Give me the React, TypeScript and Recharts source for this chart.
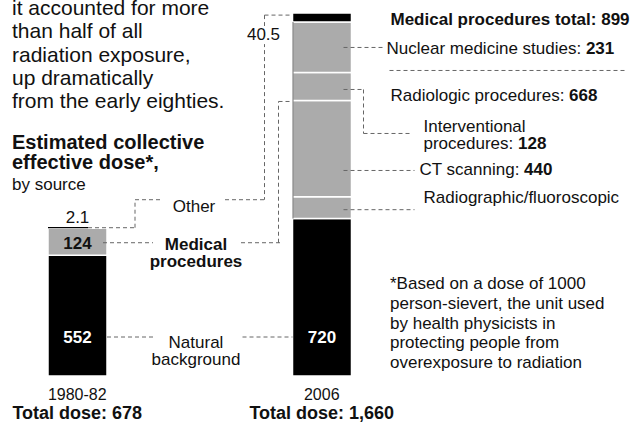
import React from 'react';
import { BarChart, Bar, XAxis, YAxis, LabelList } from 'recharts';

const periods = ['1980-82', '2006'];
const totalDoseLabels = ['678', '1,660'];
const naturalBackground = [552, 720];
const medicalProcedures = [124, null];
const radiographicFluoroscopic = [null, 100];
const ctScanning = [null, 440];
const interventionalProcedures = [null, 128];
const nuclearMedicine = [null, 231];
const otherSources = [2.1, 40.5];
const medicalTotal = 899;
const radiologicTotal = 668;

const introLines = [
  'it accounted for more',
  'than half of all',
  'radiation exposure,',
  'up dramatically',
  'from the early eighties.',
];
const headingLines = ['Estimated collective', 'effective dose*,'];
const subHeading = 'by source';
const footnoteLines = [
  '*Based on a dose of 1000',
  'person-sievert, the unit used',
  'by health physicists in',
  'protecting people from',
  'overexposure to radiation',
];

const data = periods.map((p, i) => ({
  period: p,
  total: totalDoseLabels[i],
  natural: naturalBackground[i],
  medical: medicalProcedures[i],
  radiographic: radiographicFluoroscopic[i],
  ct: ctScanning[i],
  interventional: interventionalProcedures[i],
  nuclear: nuclearMedicine[i],
  other: otherSources[i],
}));

const FONT = '"Liberation Sans", Arial, Helvetica, sans-serif';
const BLACK = '#000000';
const GRAY = '#ababab';
const LEAD = '#666666';
const FS = 17;

const geo: any = {};

const rectOf = (p: any) => {
  const v = p.viewBox || p;
  return { x: Number(v.x), y: Number(v.y), w: Number(v.width), h: Number(v.height) };
};

const Dash = ({ x1, y1, x2, y2 }: any) => (
  <line x1={x1} y1={y1} x2={x2} y2={y2} stroke={LEAD} strokeWidth={1} strokeDasharray="4 3" />
);

const T = (props: any) => (
  <text fontFamily={FONT} fontSize={FS} fill="#111" {...props} />
);

const NaturalLabel = (p: any) => {
  const r = rectOf(p);
  if (!r.h || p.value == null) return null;
  const b = r.y + r.h;
  const ly = b - 39;
  const cx = r.x + r.w / 2;
  if (p.index === 0) {
    geo.nat0 = { right: r.x + r.w, ly };
    return (
      <g>
        <T x={cx} y={b - 33} textAnchor="middle" fill="#fff" fontWeight="bold">{String(p.value)}</T>
        <Dash x1={r.x + r.w} y1={ly} x2={r.x + r.w + 46} y2={ly} />
        <T x={r.x + r.w + 89} y={ly + 11} textAnchor="middle">Natural</T>
        <T x={r.x + r.w + 89} y={ly + 28} textAnchor="middle">background</T>
      </g>
    );
  }
  return (
    <g>
      <T x={cx} y={b - 33} textAnchor="middle" fill="#fff" fontWeight="bold">{String(p.value)}</T>
      <Dash x1={r.x - 50} y1={ly} x2={r.x} y2={ly} />
    </g>
  );
};

const MedicalLabel = (p: any) => {
  const r = rectOf(p);
  if (!r.h || p.value == null) return null;
  const cy = r.y + r.h / 2 + 1;
  const cx = r.x + r.w / 2;
  geo.med = { y: cy };
  return (
    <g>
      <T x={cx} y={cy + 6} textAnchor="middle" fontWeight="bold">{String(p.value)}</T>
      <Dash x1={r.x + r.w - 4} y1={cy} x2={r.x + r.w + 46} y2={cy} />
      <T x={r.x + r.w + 89} y={cy + 7} textAnchor="middle" fontWeight="bold">Medical</T>
      <T x={r.x + r.w + 89} y={cy + 24} textAnchor="middle" fontWeight="bold">procedures</T>
      <Dash x1={r.x + r.w + 134} y1={cy} x2={r.x + r.w + 173} y2={cy} />
    </g>
  );
};

const RadiographicLabel = (p: any) => {
  const r = rectOf(p);
  if (!r.h || p.value == null) return null;
  const ly = r.y + 13;
  geo.radBottom = r.y + r.h;
  return (
    <g>
      <Dash x1={r.x + r.w - 8} y1={ly} x2={r.x + r.w + 63} y2={ly} />
      <T x={r.x + r.w + 72} y={r.y + 6}>Radiographic/fluoroscopic</T>
    </g>
  );
};

const CtLabel = (p: any) => {
  const r = rectOf(p);
  if (!r.h || p.value == null) return null;
  const ly = r.y + 70;
  const vx = r.x - 14;
  return (
    <g>
      {geo.med ? (
        <g>
          <Dash x1={vx} y1={geo.med.y} x2={vx} y2={r.y + 1} />
          <Dash x1={vx} y1={r.y + 1} x2={r.x} y2={r.y + 1} />
        </g>
      ) : null}
      <Dash x1={r.x + r.w - 8} y1={ly} x2={r.x + r.w + 63} y2={ly} />
      <T x={r.x + r.w + 68} y={ly + 5}>
        CT scanning: <tspan fontWeight="bold">{String(p.value)}</tspan>
      </T>
    </g>
  );
};

const InterventionalLabel = (p: any) => {
  const r = rectOf(p);
  if (!r.h || p.value == null) return null;
  const ly = r.y + 17;
  const vx = r.x + r.w + 12;
  return (
    <g>
      <Dash x1={r.x + r.w + 38} y1={r.y - 2} x2={r.x + r.w + 275} y2={r.y - 2} />
      <T x={r.x + r.w + 39} y={ly + 12}>
        Radiologic procedures: <tspan fontWeight="bold">{String(radiologicTotal)}</tspan>
      </T>
      <Dash x1={r.x + r.w - 8} y1={ly} x2={vx} y2={ly} />
      <Dash x1={vx} y1={ly} x2={vx} y2={ly + 44} />
      <Dash x1={vx} y1={ly + 44} x2={r.x + r.w + 61} y2={ly + 44} />
      <T x={r.x + r.w + 72} y={ly + 43}>Interventional</T>
      <T x={r.x + r.w + 72} y={ly + 60}>
        procedures: <tspan fontWeight="bold">{String(p.value)}</tspan>
      </T>
    </g>
  );
};

const NuclearLabel = (p: any) => {
  const r = rectOf(p);
  if (!r.h || p.value == null) return null;
  const ly = r.y + 25.5;
  return (
    <g>
      {geo.radBottom ? (
        <line x1={r.x + 0.5} y1={r.y} x2={r.x + 0.5} y2={geo.radBottom} stroke="#6e6e6e" strokeWidth={1} />
      ) : null}
      <T x={r.x + r.w + 39} y={r.y + 3} fontWeight="bold">
        Medical procedures total: {String(medicalTotal)}
      </T>
      <Dash x1={r.x + r.w - 8} y1={ly} x2={r.x + r.w + 32} y2={ly} />
      <T x={r.x + r.w + 35} y={ly + 7}>
        Nuclear medicine studies: <tspan fontWeight="bold">{String(p.value)}</tspan>
      </T>
    </g>
  );
};

const OtherLabel = (p: any) => {
  const r = rectOf(p);
  if (p.value == null || isNaN(r.y)) return null;
  if (p.index === 0) {
    const y = r.y;
    geo.oth0 = { y: y - 28 };
    return (
      <g>
        <line x1={r.x} y1={y} x2={r.x + 40} y2={y} stroke={BLACK} strokeWidth={1.2} />
        <Dash x1={r.x + 40} y1={y} x2={r.x + 87} y2={y} />
        <Dash x1={r.x + 87} y1={y} x2={r.x + 87} y2={y - 28} />
        <Dash x1={r.x + 87} y1={y - 28} x2={r.x + 115} y2={y - 28} />
        <T x={r.x + 146} y={y - 16} textAnchor="middle">Other</T>
        <Dash x1={r.x + 177} y1={y - 28} x2={r.x + 217} y2={y - 28} />
        <T x={r.x + r.w / 2} y={y - 5} textAnchor="middle">{String(p.value)}</T>
      </g>
    );
  }
  const ly = r.y + 2;
  const vx = r.x - 28;
  return (
    <g>
      <Dash x1={vx} y1={ly} x2={r.x} y2={ly} />
      {geo.oth0 ? <Dash x1={vx} y1={ly} x2={vx} y2={geo.oth0.y} /> : null}
      <rect x={vx - 18} y={ly + 11} width={36} height={18} fill="#fff" />
      <T x={vx - 1} y={ly + 25} textAnchor="middle">{String(p.value)}</T>
    </g>
  );
};

const PeriodTick = (p: any) => {
  const i = p.index;
  return (
    <g>
      <T x={p.x} y={p.y + 24} textAnchor="middle" fontSize={16}>{p.payload.value}</T>
      <T x={p.x} y={p.y + 43} textAnchor="middle" fontWeight="bold" fontSize={18}>
        {'Total dose: ' + totalDoseLabels[i]}
      </T>
    </g>
  );
};

export default function App() {
  return (
    <div style={{ position: 'absolute', left: 0, top: 0, width: 635, height: 428, background: '#fff' }}>
      <BarChart
        width={635}
        height={428}
        data={data}
        margin={{ top: 13, right: 191, bottom: 22, left: -45 }}
      >
        <XAxis
          dataKey="period"
          axisLine={false}
          tickLine={false}
          tickSize={0}
          tickMargin={0}
          height={30}
          tick={<PeriodTick />}
          interval={0}
        />
        <YAxis hide domain={[0, 1660]} allowDataOverflow={false} />
        <Bar dataKey="natural" stackId="a" fill={BLACK} stroke="#fff" strokeWidth={1.5} barSize={59} isAnimationActive={false}>
          <LabelList dataKey="natural" content={NaturalLabel} />
        </Bar>
        <Bar dataKey="medical" stackId="a" fill={GRAY} stroke="#fff" strokeWidth={1.5} barSize={59} isAnimationActive={false}>
          <LabelList dataKey="medical" content={MedicalLabel} />
        </Bar>
        <Bar dataKey="radiographic" stackId="a" fill={GRAY} stroke="#fff" strokeWidth={1.5} barSize={59} isAnimationActive={false}>
          <LabelList dataKey="radiographic" content={RadiographicLabel} />
        </Bar>
        <Bar dataKey="ct" stackId="a" fill={GRAY} stroke="#fff" strokeWidth={1.5} barSize={59} isAnimationActive={false}>
          <LabelList dataKey="ct" content={CtLabel} />
        </Bar>
        <Bar dataKey="interventional" stackId="a" fill={GRAY} stroke="#fff" strokeWidth={1.5} barSize={59} isAnimationActive={false}>
          <LabelList dataKey="interventional" content={InterventionalLabel} />
        </Bar>
        <Bar dataKey="nuclear" stackId="a" fill={GRAY} stroke="#fff" strokeWidth={1.5} barSize={59} isAnimationActive={false}>
          <LabelList dataKey="nuclear" content={NuclearLabel} />
        </Bar>
        <Bar dataKey="other" stackId="a" fill={BLACK} stroke="#fff" strokeWidth={1.5} barSize={59} isAnimationActive={false}>
          <LabelList dataKey="other" content={OtherLabel} />
        </Bar>
      </BarChart>
      <svg
        width={635}
        height={428}
        style={{ position: 'absolute', left: 0, top: 0, pointerEvents: 'none' }}
      >
        {introLines.map((l, i) => (
          <text key={l} x={12} y={15 + i * 23.3} fontFamily={FONT} fontSize={21} fill="#111">{l}</text>
        ))}
        {headingLines.map((l, i) => (
          <text key={l} x={12} y={149 + i * 20} fontFamily={FONT} fontSize={20} fontWeight="bold" fill="#111">{l}</text>
        ))}
        <text x={12} y={190} fontFamily={FONT} fontSize={17} fill="#111">{subHeading}</text>
        {footnoteLines.map((l, i) => (
          <text key={l} x={390} y={289 + i * 19.8} fontFamily={FONT} fontSize={17} fill="#111">{l}</text>
        ))}
      </svg>
    </div>
  );
}
